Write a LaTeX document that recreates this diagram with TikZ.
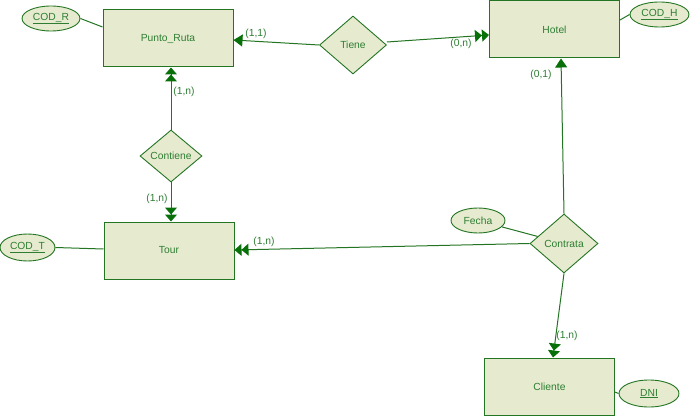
\documentclass[tikz,border=0pt]{standalone}
\usepackage{fontspec}
\setmainfont{Liberation Sans}
\usetikzlibrary{shapes.geometric,arrows.meta}
\definecolor{erfill}{HTML}{E6EBCF}
\definecolor{erline}{HTML}{237523}
\definecolor{ertext}{HTML}{2E7D32}
\definecolor{erarrow}{HTML}{087008}
\tikzset{
  ent/.style={draw=erline,fill=erfill,line width=1pt,minimum width=130pt,minimum height=57pt,inner sep=0pt,font=\fontsize{10.3}{12}\selectfont,text=ertext},
  rel/.style={diamond,draw=erline,fill=erfill,line width=0.9pt,inner sep=0pt,font=\fontsize{10.3}{12}\selectfont,text=ertext},
  attr/.style={ellipse,draw=erline,fill=erfill,line width=0.9pt,inner sep=0pt,font=\fontsize{10.3}{12}\selectfont,text=ertext},
  conn/.style={draw=erline,line width=1pt},
  one/.style={conn,-{Triangle[width=12pt,length=9pt,color=erarrow,fill=erarrow]}},
  many/.style={conn,-{Triangle[width=12pt,length=7pt,color=erarrow,fill=erarrow]Triangle[width=12pt,length=7pt,color=erarrow,fill=erarrow]}},
  card/.style={font=\fontsize{10.3}{12}\selectfont,text=ertext,inner sep=0pt}
}
\begin{document}
\begin{tikzpicture}[x=1pt,y=-1pt]
\useasboundingbox (0,0) rectangle (691,417);
% entities
\node[ent] (pr) at (168,38.5) {Punto\_Ruta};
\node[ent] (ho) at (554.5,29.5) {Hotel};
\node[ent] (to) at (169,250.5) {Tour};
\node[ent] (cl) at (549.5,386.5) {Cliente};
% relationships
\node[rel,minimum width=67pt,minimum height=58pt] (ti) at (353,45) {Tiene};
\node[rel,minimum width=62pt,minimum height=52pt] (co) at (171,156) {Contiene};
\node[rel,minimum width=68pt,minimum height=59pt] (ct) at (564,243.5) {Contrata};
% attributes
\node[attr,minimum width=58pt,minimum height=25pt] (codr) at (51,18.5) {\underline{COD\_R}};
\node[attr,minimum width=59pt,minimum height=25pt] (codh) at (659.5,14.5) {\underline{COD\_H}};
\node[attr,minimum width=55pt,minimum height=27pt] (codt) at (27.5,247.5) {\underline{COD\_T}};
\node[attr,minimum width=54pt,minimum height=25pt] (fe) at (478,220.5) {Fecha};
\node[attr,minimum width=60pt,minimum height=27pt] (dni) at (649,393.5) {\underline{DNI}};
% attribute lines
\draw[conn] (codr.east) -- (pr.west |- 0,27);
\draw[conn] (codh.west) -- (ho.east |- 0,20);
\draw[conn] (codt.east) -- (to.west |- 0,249);
\draw[conn] (dni.west) -- (cl.east |- 0,392);
\draw[conn] (fe) -- (ct);
% relationship connectors
\draw[one] (ti.west) -- (pr.east |- 0,40);
\draw[many] (ti.east |- 0,42) -- (ho.west |- 0,35);
\draw[many] (co.north) -- (co.north |- pr.south);
\draw[many] (co.south) -- (co.south |- to.north);
\draw[one] (ct.north) -- (ho.south -| 561,0);
\draw[many] (ct.west) -- (to.east |- 0,250);
\draw[many] (ct.south) -- (cl.north -| 553,0);
% cardinalities
\node[card] (c1) at (256,34) {(1,1)};
\node[card] (c2) at (461,44) {(0,n)};
\node[card] (c3) at (184,92) {(1,n)};
\node[card] (c4) at (157,199) {(1,n)};
\node[card] (c5) at (541,75) {(0,1)};
\node[card] (c6) at (264,242) {(1,n)};
\node[card] (c7) at (567,336) {(1,n)};
\end{tikzpicture}
\end{document}
